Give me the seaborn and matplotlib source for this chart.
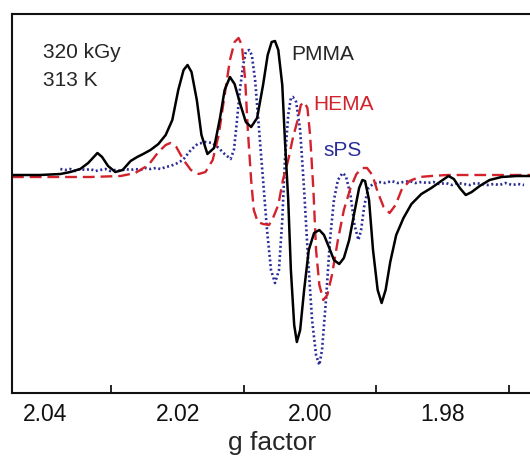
import matplotlib
matplotlib.use('Agg')
import matplotlib.pyplot as plt
from matplotlib.ticker import MultipleLocator
import seaborn as sns

# EPR spectra, 320 kGy / 313 K (intensity in arbitrary units)
g_pmma = [2.0450, 2.0408, 2.0377, 2.0362, 2.0347, 2.0335, 2.0321, 2.0314, 2.0305, 2.0294,
          2.0283, 2.0271, 2.0261, 2.0252, 2.0241, 2.0229, 2.0218, 2.0208, 2.0199, 2.0191,
          2.0185, 2.0179, 2.0171, 2.0164, 2.0155, 2.0145, 2.0136, 2.0129, 2.0121, 2.0114,
          2.0105, 2.0097, 2.0089, 2.0080, 2.0071, 2.0064, 2.0058, 2.0053, 2.0048, 2.0042,
          2.0038, 2.0033, 2.0029, 2.0024, 2.0020, 2.0015, 2.0009, 2.0002, 1.9994, 1.9986,
          1.9979, 1.9971, 1.9964, 1.9956, 1.9949, 1.9941, 1.9933, 1.9926, 1.9921, 1.9917,
          1.9911, 1.9905, 1.9898, 1.9892, 1.9886, 1.9879, 1.9870, 1.9859, 1.9847, 1.9832,
          1.9817, 1.9802, 1.9791, 1.9783, 1.9774, 1.9765, 1.9756, 1.9744, 1.9729, 1.9711,
          1.9688, 1.9665]
i_pmma = [0, 0, 1, 3, 6, 12, 22, 18, 9, 3,
          5, 14, 18, 21, 25, 31, 40, 55, 85, 105,
          110, 103, 75, 40, 21, 27, 57, 85, 98, 91,
          70, 53, 48, 57, 90, 120, 133, 134, 125, 90,
          35, -25, -95, -150, -167, -155, -115, -75, -58, -55,
          -60, -73, -85, -89, -83, -65, -37, -13, -5, -6,
          -25, -75, -115, -128, -115, -87, -60, -43, -29, -19,
          -13, -6, -1, -4, -13, -20, -17, -11, -5, -2,
          -1, -1]

g_hema = [2.0450, 2.0392, 2.0332, 2.0286, 2.0264, 2.0244, 2.0229, 2.0218, 2.0211, 2.0202,
          2.0191, 2.0180, 2.0168, 2.0158, 2.0147, 2.0138, 2.0129, 2.0121, 2.0114, 2.0108,
          2.0103, 2.0098, 2.0094, 2.0089, 2.0085, 2.0079, 2.0071, 2.0062, 2.0056, 2.0048,
          2.0041, 2.0033, 2.0026, 2.0018, 2.0014, 2.0009, 2.0004, 2.0000, 1.9995, 1.9991,
          1.9986, 1.9980, 1.9974, 1.9967, 1.9958, 1.9949, 1.9939, 1.9930, 1.9921, 1.9914,
          1.9906, 1.9898, 1.9889, 1.9880, 1.9871, 1.9862, 1.9850, 1.9835, 1.9817, 1.9794,
          1.9756, 1.9711, 1.9665]
i_hema = [-2, -2, -2, -1, 2, 10, 23, 30, 32, 28,
          15, 5, 1, 3, 15, 40, 80, 115, 133, 137,
          130, 95, 45, -5, -35, -47, -49, -50, -43, -30,
          -5, 15, 37, 57, 70, 73, 67, 40, -15, -75,
          -110, -125, -120, -100, -65, -35, -13, 1, 7, 7,
          0, -17, -32, -38, -30, -15, -6, -2, -1, 0,
          0, 0, 0]

g_sps = [2.0377, 2.0370, 2.0362, 2.0355, 2.0347, 2.0339, 2.0332, 2.0324, 2.0317, 2.0309,
         2.0302, 2.0294, 2.0286, 2.0279, 2.0271, 2.0264, 2.0256, 2.0248, 2.0241, 2.0233,
         2.0226, 2.0218, 2.0211, 2.0203, 2.0192, 2.0180, 2.0170, 2.0158, 2.0147, 2.0138,
         2.0129, 2.0120, 2.0115, 2.0111, 2.0106, 2.0101, 2.0097, 2.0092, 2.0088, 2.0083,
         2.0077, 2.0071, 2.0065, 2.0059, 2.0053, 2.0047, 2.0042, 2.0038, 2.0033, 2.0029,
         2.0026, 2.0021, 2.0015, 2.0009, 2.0003, 1.9997, 1.9991, 1.9986, 1.9982, 1.9976,
         1.9970, 1.9964, 1.9958, 1.9951, 1.9946, 1.9939, 1.9933, 1.9927, 1.9923, 1.9918,
         1.9912, 1.9905, 1.9896, 1.9886, 1.9877, 1.9868, 1.9859, 1.9850, 1.9841, 1.9832,
         1.9823, 1.9814, 1.9805, 1.9795, 1.9786, 1.9777, 1.9768, 1.9759, 1.9750, 1.9741,
         1.9732, 1.9723, 1.9714, 1.9705, 1.9695, 1.9686, 1.9677]
i_sps = [6, 5, 6, 4, 6, 5, 6, 4, 5, 6,
         4, 5, 4, 6, 5, 6, 5, 7, 6, 7,
         6, 8, 9, 11, 15, 25, 31, 33, 32, 27,
         21, 16, 25, 50, 85, 110, 123, 125, 120, 95,
         45, -5, -55, -95, -108, -95, -45, 15, 60, 77,
         78, 73, 45, -15, -85, -145, -180, -190, -175, -125,
         -65, -25, -5, 2, -1, -20, -50, -65, -55, -30,
         -13, -9, -7, -8, -6, -8, -7, -6, -8, -7,
         -8, -7, -9, -8, -10, -8, -9, -10, -8, -9,
         -10, -9, -10, -8, -10, -9, -10]

xticks_major = [2.04, 2.02, 2.00, 1.98]
xtick_labels = ['2.04', '2.02', '2.00', '1.98']

red = '#d3222c'
blue = '#2a2c98'

sns.set_theme(style='white')
plt.rcParams['font.family'] = ['Liberation Sans', 'DejaVu Sans']

fig = plt.figure(figsize=(5.30, 4.59), dpi=100)
ax = fig.add_axes([12 / 530, 66 / 459, 520 / 530, 379 / 459])

sns.lineplot(x=g_sps, y=i_sps, ax=ax, color=blue, lw=1.9, sort=False, estimator=None,
             linestyle=(0, (0.75, 1.0)))
sns.lineplot(x=g_hema, y=i_hema, ax=ax, color=red, lw=1.7, sort=False, estimator=None,
             linestyle=(0, (5, 2.5)))
sns.lineplot(x=g_pmma, y=i_pmma, ax=ax, color='black', lw=1.8, sort=False, estimator=None)

ax.set_xlim(2.0450, 1.9665)
ax.set_ylim(-218, 161)

ax.set_xticks(xticks_major)
ax.set_xticklabels(xtick_labels, fontsize=16.5)
ax.xaxis.set_minor_locator(MultipleLocator(0.01))
ax.tick_params(axis='x', which='major', direction='in', length=9, width=1.4, pad=7, colors='#111111')
ax.tick_params(axis='x', which='minor', direction='in', length=6, width=1.4, bottom=True)
ax.set_yticks([])
ax.set_xlabel('g factor', fontsize=19, labelpad=4)
ax.set_ylabel('')

for side in ['left', 'top', 'bottom']:
    ax.spines[side].set_linewidth(1.5)
    ax.spines[side].set_color('#111111')
ax.spines['right'].set_visible(False)

ax.text(2.0403, 122, '320 kGy', fontsize=15, va='center', ha='left')
ax.text(2.0403, 95, '313 K', fontsize=15, va='center', ha='left')
ax.text(2.0029, 121, 'PMMA', fontsize=15, va='center', ha='left')
ax.text(1.9995, 71, 'HEMA', fontsize=15, va='center', ha='left', color=red)
ax.text(1.9980, 25, 'sPS', fontsize=15, va='center', ha='left', color=blue)

fig.savefig('out.png', dpi=100)
